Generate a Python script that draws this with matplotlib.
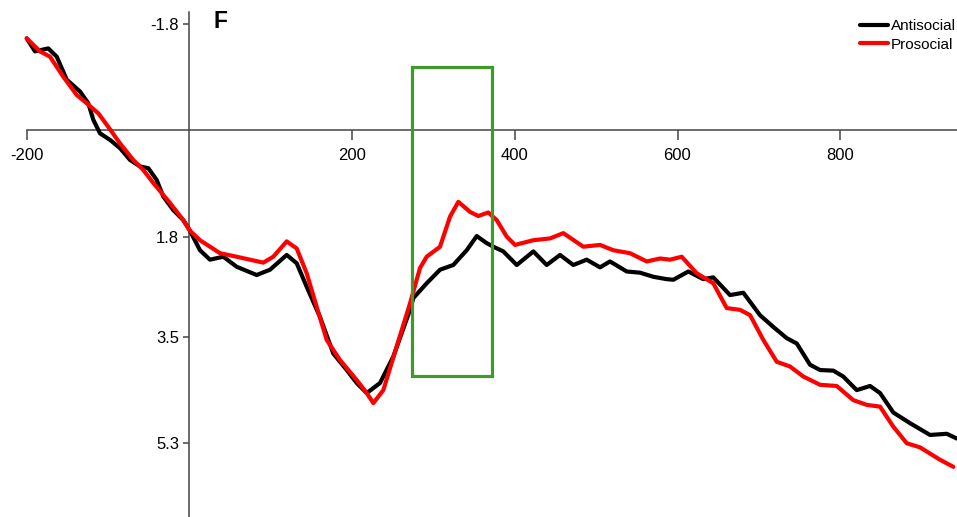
import matplotlib
matplotlib.use("Agg")
import matplotlib.pyplot as plt
from matplotlib.patches import Rectangle

plt.rcParams['font.family'] = ['Liberation Sans', 'DejaVu Sans']

# ---- data (time in ms, amplitude in microvolts; negative plotted up) ----
anti_t = [-200.0, -189.8, -173.5, -163.1, -150.8, -134.5, -124.3, -118.1, -109.9, -97.6,
          -85.3, -73.0, -60.7, -50.5, -40.2, -32.1, -19.8, -7.5, 0.7, 13.0,
          25.3, 41.7, 58.1, 82.7, 99.1, 119.6, 131.9, 144.2, 160.5, 176.9,
          193.4, 205.7, 218.0, 234.3, 250.7, 271.2, 275.3, 291.7, 308.1, 324.4,
          340.9, 353.2, 365.5, 373.6, 385.9, 402.4, 422.8, 439.2, 455.6, 471.9,
          488.4, 504.8, 517.0, 537.6, 553.9, 570.3, 586.7, 594.9, 613.3, 631.7,
          644.0, 664.6, 680.9, 701.4, 717.8, 734.3, 746.6, 762.9, 775.2, 791.5,
          803.8, 820.3, 836.7, 849.0, 865.3, 885.8, 910.4, 931.0, 943.3]
anti_v = [-1.56, -1.34, -1.39, -1.25, -0.86, -0.66, -0.46, -0.18, 0.05, 0.16,
          0.30, 0.50, 0.61, 0.64, 0.84, 1.12, 1.35, 1.52, 1.70, 2.03,
          2.19, 2.14, 2.31, 2.45, 2.36, 2.11, 2.25, 2.65, 3.16, 3.78,
          4.06, 4.28, 4.45, 4.28, 3.83, 3.04, 2.84, 2.59, 2.36, 2.28,
          2.03, 1.79, 1.91, 1.97, 2.05, 2.28, 2.05, 2.28, 2.11, 2.28,
          2.19, 2.32, 2.22, 2.39, 2.41, 2.48, 2.52, 2.53, 2.39, 2.52,
          2.49, 2.79, 2.75, 3.13, 3.33, 3.52, 3.61, 3.97, 4.06, 4.07,
          4.17, 4.40, 4.33, 4.45, 4.78, 4.96, 5.16, 5.14, 5.22]

pro_t = [-200.0, -183.7, -171.4, -155.0, -138.5, -126.2, -112.0, -99.7, -85.3, -69.0,
         -56.7, -44.4, -23.8, -7.5, 0.7, 13.0, 37.6, 58.1, 90.8, 103.1,
         119.6, 131.9, 144.2, 156.5, 168.8, 185.1, 205.7, 218.0, 226.1, 238.4,
         254.8, 271.2, 283.5, 291.7, 308.1, 320.4, 330.6, 344.9, 355.1, 367.4,
         377.8, 390.1, 400.3, 422.8, 443.3, 459.6, 484.2, 504.8, 521.1, 541.6,
         562.2, 578.5, 590.8, 605.2, 623.6, 644.0, 660.5, 676.9, 689.2, 705.5,
         722.0, 738.3, 754.7, 775.2, 795.7, 816.1, 832.6, 849.0, 865.3, 881.8,
         898.1, 922.7, 939.1]
pro_v = [-1.56, -1.34, -1.25, -0.91, -0.60, -0.46, -0.29, -0.06, 0.22, 0.50,
         0.67, 0.89, 1.23, 1.52, 1.70, 1.86, 2.08, 2.14, 2.24, 2.14,
         1.88, 2.00, 2.42, 2.99, 3.55, 3.89, 4.23, 4.45, 4.62, 4.40,
         3.66, 2.93, 2.33, 2.14, 1.97, 1.46, 1.21, 1.38, 1.45, 1.39,
         1.52, 1.80, 1.94, 1.86, 1.83, 1.74, 1.97, 1.94, 2.03, 2.08,
         2.22, 2.17, 2.19, 2.14, 2.42, 2.59, 3.01, 3.04, 3.13, 3.55,
         3.92, 4.00, 4.17, 4.31, 4.33, 4.57, 4.65, 4.68, 5.02, 5.30,
         5.37, 5.58, 5.70]

x_ticks = [-200, 200, 400, 600, 800]
y_ticks = [-1.8, 1.8, 3.5, 5.3]
y_tick_labels = ["-1.8", "1.8", "3.5", "5.3"]
window_ms = (274, 372)
window_uv = (-1.08, 4.16)
series_names = ["Antisocial", "Prosocial"]
panel_label = "F"

# ---- figure ----
W, H = 957, 517
fig = plt.figure(figsize=(W / 100, H / 100), dpi=100)
ax = fig.add_axes([0, 0, 1, 1])
ax.set_facecolor('white')

px_per_ms = 0.8135
x_left = -200 - 26.7 / px_per_ms
x_right = x_left + W / px_per_ms
ax.set_xlim(x_left, x_right)
ax.set_ylim(6.55, -2.21)

ax.plot(anti_t, anti_v, color='black', lw=3.0, solid_joinstyle='round',
        solid_capstyle='round', label=series_names[0], zorder=3)
ax.plot(pro_t, pro_v, color='#ff0000', lw=3.0, solid_joinstyle='round',
        solid_capstyle='round', label=series_names[1], zorder=4)

ax.add_patch(Rectangle((window_ms[0], window_uv[0]), window_ms[1] - window_ms[0],
                       window_uv[1] - window_uv[0], fill=False,
                       edgecolor='#3f9a2b', lw=2.3, zorder=5))

for s in ['top', 'right']:
    ax.spines[s].set_visible(False)
ax.spines['left'].set_position(('data', 0))
ax.spines['bottom'].set_position(('data', 0))
ax.spines['left'].set_bounds(-2.0, 6.55)
ax.spines['bottom'].set_bounds(-200, x_right)
for s in ['left', 'bottom']:
    ax.spines[s].set_color('#444444')
    ax.spines[s].set_linewidth(1.1)

ax.set_xticks(x_ticks)
ax.set_xticklabels([str(v) for v in x_ticks])
ax.set_yticks(y_ticks)
ax.set_yticklabels(y_tick_labels)
ax.tick_params(axis='x', direction='out', length=7, width=1.1, color='#444444',
               pad=6, labelsize=12, labelcolor='black')
ax.tick_params(axis='y', direction='out', length=4.5, width=1.1, color='#444444',
               pad=3, labelsize=12, labelcolor='black')

ax.text((221 - 189.4) / px_per_ms, (22 - 130.5) / 59,
        panel_label, fontsize=16.5, fontweight='bold', ha='center', va='center')

leg = ax.legend(loc='upper left', bbox_to_anchor=(860 / W, 1 - 19 / H),
                bbox_transform=fig.transFigure, frameon=False, fontsize=11,
                handlelength=1.8, handletextpad=0.2, borderpad=0,
                borderaxespad=0, labelspacing=0.3)
for line in leg.get_lines():
    line.set_linewidth(3.0)

fig.savefig('out.png', dpi=100, facecolor='white')
